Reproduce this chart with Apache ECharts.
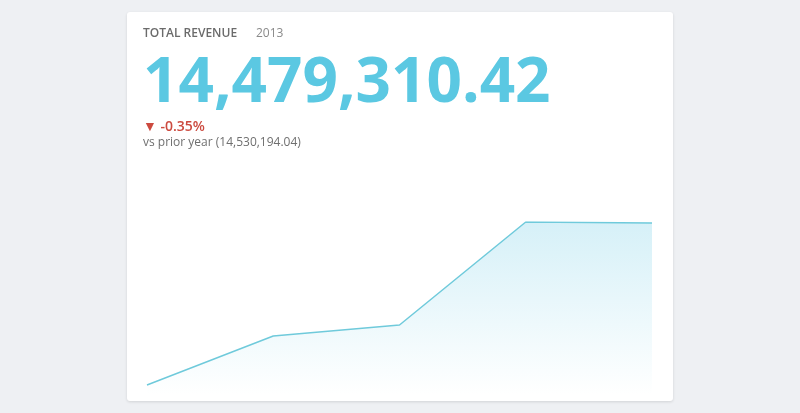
<!DOCTYPE html>
<html>
<head>
<meta charset="utf-8">
<title>Total Revenue</title>
<script src="https://cdn.jsdelivr.net/npm/echarts@6/dist/echarts.min.js"></script>
<style>
  html, body { margin: 0; padding: 0; background: #eef0f3; }
  #main { width: 800px; height: 413px; }
</style>
</head>
<body>
<div id="main"></div>
<script type="text/javascript">
    // data
    var periods = ['P1', 'P2', 'P3', 'P4', 'P5'];
    var revenue = [299000, 1765000, 2094000, 5175000, 5146000];
    var totalText = '14,479,310.42';
    var changeText = '\u25BC -0.35%';
    var priorText = 'vs prior year (14,530,194.04)';

    var myChart = echarts.init(document.getElementById('main'));

    var option = {
        backgroundColor: '#eef0f3',
        animation: false,
        graphic: [
            {
                type: 'rect', z: -10,
                shape: { x: 127, y: 12, width: 546, height: 389, r: 3 },
                style: { fill: '#fff', shadowBlur: 3, shadowColor: 'rgba(0,0,0,0.12)', shadowOffsetY: 1 }
            },
            {
                type: 'text', left: 143, top: 28,
                style: { text: 'TOTAL REVENUE', fill: '#6b6b6b', fontFamily: 'Open Sans', fontWeight: 600, fontSize: 12 }
            },
            {
                type: 'text', left: 256, top: 28,
                style: { text: '2013', fill: '#8a8a8a', fontFamily: 'Open Sans', fontWeight: 400, fontSize: 12 }
            },
            {
                type: 'text', left: 143, top: 53,
                style: { text: totalText, fill: '#5bc8e2', fontFamily: 'Open Sans', fontWeight: 700, fontSize: 62 }
            },
            {
                type: 'text', left: 143, top: 120,
                style: { text: changeText, fill: '#cc4a3f', fontFamily: 'Open Sans', fontWeight: 600, fontSize: 14 }
            },
            {
                type: 'text', left: 143, top: 137,
                style: { text: priorText, fill: '#6f6f6f', fontFamily: 'Open Sans', fontWeight: 400, fontSize: 12 }
            }
        ],
        grid: { left: 147, right: 148, top: 222, bottom: 18 },
        xAxis: {
            type: 'category',
            data: periods,
            boundaryGap: false,
            show: false
        },
        yAxis: {
            type: 'value',
            min: 0,
            max: 5175000,
            show: false
        },
        series: [{
            type: 'line',
            data: revenue,
            symbol: 'none',
            lineStyle: { color: '#6fcadb', width: 1.5 },
            areaStyle: {
                color: new echarts.graphic.LinearGradient(0, 0, 0, 1, [
                    { offset: 0, color: 'rgba(100,200,228,0.38)' },
                    { offset: 1, color: 'rgba(100,200,228,0.0)' }
                ])
            }
        }]
    };

    myChart.setOption(option);
</script>
</body>
</html>
